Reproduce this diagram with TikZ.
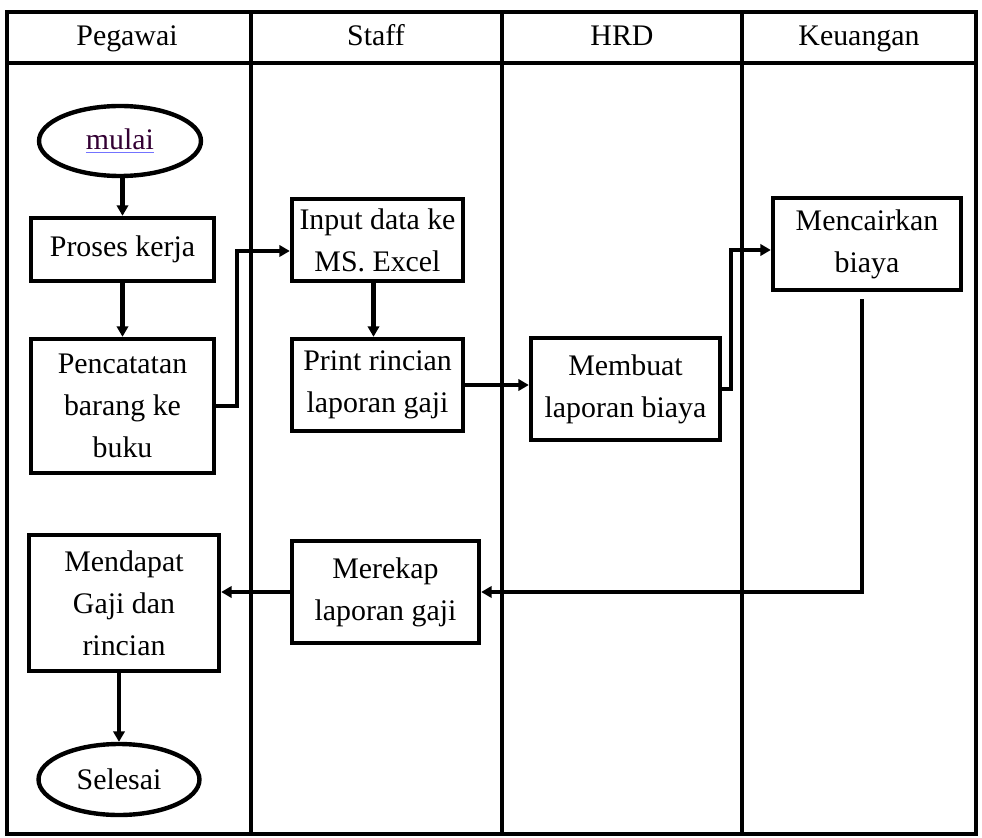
\documentclass[tikz,border=0pt]{standalone}
\usepackage{fontspec}
\setmainfont{Liberation Serif}
\usetikzlibrary{arrows.meta,shapes.geometric}
\newcommand{\spellwarn}[1]{\rlap{\color{blue!55}\underline{\phantom{#1}}}{\color{violet!40!black}#1}}

\begin{document}
\begin{tikzpicture}
  [x=0.02cm,y=-0.02cm,line width=2.5pt,
   every node/.style={font=\fontsize{17}{24}\selectfont,align=center,inner sep=0pt},
   lanehead/.style={anchor=base},
   proc/.style={draw,rectangle},
   term/.style={draw,ellipse},
   flow/.style={-{Triangle[length=6pt,width=6.5pt]}}]
  \useasboundingbox (0,0) rectangle (982,837);

  % swimlanes
  \draw[line width=1.9pt] (7,12) rectangle (976,834);
  \draw[line width=1.9pt] (7,63) -- (976,63);
  \foreach \x in {251,502,742}
    \draw[line width=1.9pt] (\x,12) -- (\x,834);
  \node[lanehead] (h1) at (127,46) {Pegawai};
  \node[lanehead] (h2) at (376,46) {Staff};
  \node[lanehead] (h3) at (622,46) {HRD};
  \node[lanehead] (h4) at (859,46) {Keuangan};

  % steps
  \node[term,minimum width=3.24cm,minimum height=1.4cm] (mulai) at (120,141) {\spellwarn{mulai}};
  \node[proc,minimum width=3.66cm,minimum height=1.26cm] (proses) at (122.5,249.5) {Proses kerja};
  \node[proc,minimum width=3.66cm,minimum height=2.68cm] (catat) at (122.5,406) {Pencatatan\\barang ke\\buku};
  \node[proc,minimum width=3.42cm,minimum height=1.64cm] (input) at (377.5,240) {Input data ke\\MS. Excel};
  \node[proc,minimum width=3.42cm,minimum height=1.84cm] (print) at (377.5,385) {Print rincian\\laporan gaji};
  \node[proc,minimum width=3.78cm,minimum height=2.04cm] (membuat) at (625.5,389) {Membuat\\laporan biaya};
  \node[proc,minimum width=3.76cm,minimum height=1.84cm] (cair) at (867,244) {Mencairkan\\biaya};
  \node[proc,minimum width=3.74cm,minimum height=2.04cm] (rekap) at (385.5,592) {Merekap\\laporan gaji};
  \node[proc,minimum width=3.8cm,minimum height=2.72cm] (dapat) at (124,603) {Mendapat\\Gaji dan\\rincian};
  \node[term,minimum width=3.22cm,minimum height=1.42cm] (selesai) at (119,779.5) {Selesai};

  % connectors
  \foreach \from/\to in {mulai/proses,proses/catat,dapat/selesai}
    \draw[flow] (\to.north |- \from.south) -- (\to.north);
  \draw[flow] ([xshift=-0.08cm]input.south) -- ([xshift=-0.08cm]print.north);
  \draw[flow] (catat.east) -- ++(21,0) |- ([yshift=-0.22cm]input.west);
  \draw[flow] (print.east) -- (print.east -| membuat.west);
  \draw[flow] (membuat.east) -- ++(9,0) |- ([yshift=-0.12cm]cair.west);
  \draw[flow] ([xshift=-0.1cm,yshift=-0.14cm]cair.south) |- (rekap.east);
  \draw[flow] (rekap.west) -- (rekap.west -| dapat.east);
\end{tikzpicture}
\end{document}
